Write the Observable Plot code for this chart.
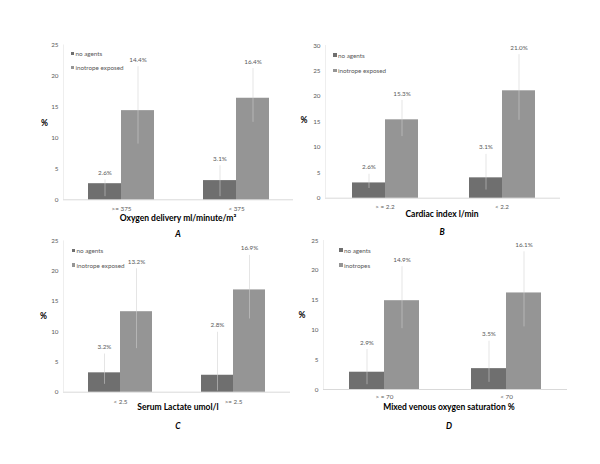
<!DOCTYPE html>
<html><head><meta charset="utf-8">
<script src="https://cdn.jsdelivr.net/npm/d3@7"></script>
<script src="https://cdn.jsdelivr.net/npm/@observablehq/plot@0.6"></script>
<style>
body{margin:0;background:#fff;}
#page{position:relative;width:600px;height:464px;overflow:hidden;font-family:Lato,sans-serif;background:#fff;}
.layer{position:absolute;}
.lg{position:absolute;display:flex;align-items:center;height:7px;font-size:6.3px;color:#595959;white-space:nowrap;}
.lg .sw{display:inline-block;width:3.5px;height:3.5px;margin-right:1.5px;}
.ttl{position:absolute;font-weight:bold;font-size:8.5px;color:#000;white-space:nowrap;transform:translate(-50%,-50%);line-height:1;}
.let{font-style:italic;}
</style></head><body><div id="page"></div>
<script>
// ---------- data ----------
const seriesABC = ["no agents", "inotrope exposed"];
const seriesD = ["no agents", "inotropes"];

const groupsA = [">= 375", "< 375"];
const noAgentsA = [2.6, 3.1];
const inotropeA = [14.4, 16.4];
const labelsNoAgentsA = ["2.6%", "3.1%"];
const labelsInotropeA = ["14.4%", "16.4%"];
const errLoNoAgentsA = [0.5, 0.5];
const errHiNoAgentsA = [3.2, 5.5];
const errLoInotropeA = [9.0, 12.5];
const errHiInotropeA = [21.5, 21.2];

const groupsB = ["> = 2.2", "< 2.2"];
const noAgentsB = [3.0, 4.0];
const inotropeB = [15.4, 21.1];
const labelsNoAgentsB = ["2.6%", "3.1%"];
const labelsInotropeB = ["15.3%", "21.0%"];
const errLoNoAgentsB = [1.9, 1.6];
const errHiNoAgentsB = [4.7, 8.6];
const errLoInotropeB = [12.1, 15.3];
const errHiInotropeB = [19.2, 28.2];

const groupsC = ["< 2.5", ">= 2.5"];
const noAgentsC = [3.2, 2.8];
const inotropeC = [13.3, 16.9];
const labelsNoAgentsC = ["3.2%", "2.8%"];
const labelsInotropeC = ["13.2%", "16.9%"];
const errLoNoAgentsC = [1.3, 0.2];
const errHiNoAgentsC = [6.3, 9.9];
const errLoInotropeC = [7.2, 12.1];
const errHiInotropeC = [20.4, 22.6];

const groupsD = ["> = 70", "< 70"];
const noAgentsD = [2.9, 3.5];
const inotropeD = [14.9, 16.2];
const labelsNoAgentsD = ["2.9%", "3.5%"];
const labelsInotropeD = ["14.9%", "16.1%"];
const errLoNoAgentsD = [0.8, 1.2];
const errHiNoAgentsD = [6.7, 8.1];
const errLoInotropeD = [10.2, 10.5];
const errHiInotropeD = [20.6, 23.1];

const yMaxA = 25, yMaxB = 30, yMaxC = 25, yMaxD = 25;
const titleA = "Oxygen delivery ml/minute/m²";
const titleB = "Cardiac index l/min";
const titleC = "Serum Lactate umol/l";
const titleD = "Mixed venous oxygen saturation %";

// ---------- helpers ----------
function rows(series, groups, v0, v1, l0, l1, lo0, hi0, lo1, hi1) {
  const out = [];
  groups.forEach((g, i) => {
    out.push({group: g, series: series[0], value: v0[i], label: l0[i], lo: lo0[i], hi: hi0[i]});
    out.push({group: g, series: series[1], value: v1[i], label: l1[i], lo: lo1[i], hi: hi1[i]});
  });
  return out;
}

const colors = ["#6f6f6f", "#959595"];
const page = document.getElementById("page");

const panels = [
  {data: rows(seriesABC, groupsA, noAgentsA, inotropeA, labelsNoAgentsA, labelsInotropeA, errLoNoAgentsA, errHiNoAgentsA, errLoInotropeA, errHiInotropeA),
   series: seriesABC, groups: groupsA, yMax: yMaxA, title: titleA, letter: "A", tp: 7,
   box: {left: 0, top: 30, width: 300, height: 200, mt: 14.5, mr: 7, mb: 30.7, ml: 63},
   legend: {x: 70.5, y: [53.3, 67.3]}, pct: {x: 44.5, y: 122.5}, titleXY: {x: 178, y: 217.5}, letterXY: {x: 178, y: 234}},
  {data: rows(seriesABC, groupsB, noAgentsB, inotropeB, labelsNoAgentsB, labelsInotropeB, errLoNoAgentsB, errHiNoAgentsB, errLoInotropeB, errHiInotropeB),
   series: seriesABC, groups: groupsB, yMax: yMaxB, title: titleB, letter: "B", tp: 6,
   box: {left: 300, top: 30, width: 300, height: 200, mt: 15, mr: 40, mb: 32.3, ml: 25},
   legend: {x: 333, y: [55, 70.7]}, pct: {x: 304, y: 120}, titleXY: {x: 442, y: 214}, letterXY: {x: 442, y: 232}},
  {data: rows(seriesABC, groupsC, noAgentsC, inotropeC, labelsNoAgentsC, labelsInotropeC, errLoNoAgentsC, errHiNoAgentsC, errLoInotropeC, errHiInotropeC),
   series: seriesABC, groups: groupsC, yMax: yMaxC, title: titleC, letter: "C", tp: 7,
   box: {left: 0, top: 230, width: 300, height: 180, mt: 10.4, mr: 10, mb: 18.3, ml: 63},
   legend: {x: 71.5, y: [250.7, 265]}, pct: {x: 43.5, y: 316}, titleXY: {x: 178, y: 407}, letterXY: {x: 178, y: 425.7}},
  {data: rows(seriesD, groupsD, noAgentsD, inotropeD, labelsNoAgentsD, labelsInotropeD, errLoNoAgentsD, errHiNoAgentsD, errLoInotropeD, errHiInotropeD),
   series: seriesD, groups: groupsD, yMax: yMaxD, title: titleD, letter: "D", tp: 5.5,
   box: {left: 300, top: 230, width: 300, height: 180, mt: 10, mr: 33, mb: 21, ml: 23},
   legend: {x: 339, y: [250, 265]}, pct: {x: 302, y: 315}, titleXY: {x: 449, y: 406.5}, letterXY: {x: 449, y: 425.7}}
];

const plotStyle = {fontFamily: "Lato, sans-serif", fontSize: "6.3px", color: "#595959", background: "transparent", overflow: "visible"};

for (const p of panels) {
  const b = p.box;
  const common = {width: b.width, height: b.height, marginTop: b.mt, marginRight: b.mr, marginBottom: b.mb, marginLeft: b.ml, style: plotStyle};

  // background layer: y axis labels, baseline and faint y-axis line
  const under = Plot.plot({
    ...common,
    x: {domain: [0, 1], axis: null},
    y: {domain: [0, p.yMax], ticks: d3.range(0, p.yMax + 1, 5), tickSize: 0, tickPadding: 5, label: null},
    marks: [
      Plot.ruleX([0], {stroke: "#eeeeee"}),
      Plot.ruleY([0], {stroke: "#d9d9d9"})
    ]
  });
  under.classList.add("layer");
  under.style.left = b.left + "px";
  under.style.top = b.top + "px";
  page.appendChild(under);

  const chart = Plot.plot({
    ...common,
    facet: {data: p.data, x: "group"},
    fx: {domain: p.groups, paddingInner: 0.43, paddingOuter: 0.215, axis: "bottom", label: null, tickSize: 0, tickPadding: p.tp},
    x: {domain: p.series, padding: 0, axis: null},
    y: {domain: [0, p.yMax], axis: null},
    color: {domain: p.series, range: colors},
    marks: [
      Plot.barY(p.data, {x: "series", y: "value", fill: "series"}),
      Plot.ruleX(p.data, {x: "series", y1: "lo", y2: "hi", stroke: "#d0d0d0", strokeOpacity: 0.55, strokeWidth: 1}),
      Plot.text(p.data, {x: "series", y: "hi", text: "label", dy: -7, fill: "#595959"})
    ]
  });
  chart.classList.add("layer");
  chart.style.left = b.left + "px";
  chart.style.top = b.top + "px";
  page.appendChild(chart);

  // legend
  p.series.forEach((s, i) => {
    const d = document.createElement("div");
    d.className = "lg";
    d.style.left = p.legend.x + "px";
    d.style.top = (p.legend.y[i] - 3.5) + "px";
    const sw = document.createElement("span");
    sw.className = "sw";
    sw.style.background = colors[i];
    d.appendChild(sw);
    d.appendChild(document.createTextNode(s));
    page.appendChild(d);
  });

  const pct = document.createElement("div");
  pct.className = "ttl";
  pct.style.left = p.pct.x + "px";
  pct.style.top = p.pct.y + "px";
  pct.textContent = "%";
  page.appendChild(pct);

  const t = document.createElement("div");
  t.className = "ttl";
  t.style.left = p.titleXY.x + "px";
  t.style.top = p.titleXY.y + "px";
  t.textContent = p.title;
  page.appendChild(t);

  const l = document.createElement("div");
  l.className = "ttl let";
  l.style.left = p.letterXY.x + "px";
  l.style.top = p.letterXY.y + "px";
  l.textContent = p.letter;
  page.appendChild(l);
}
</script>
</body></html>
